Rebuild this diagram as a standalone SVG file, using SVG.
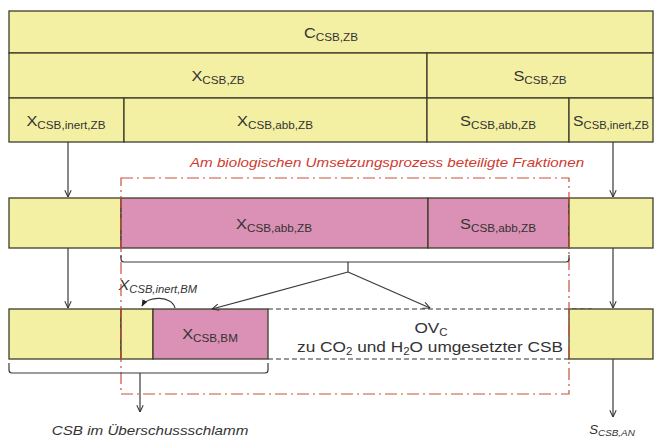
<svg xmlns="http://www.w3.org/2000/svg" width="654" height="441" viewBox="0 0 654 441">
<defs>
<style>
.y{fill:#f3f0a4;stroke:#3d3d2a;stroke-width:1.3}
.p{fill:#da91b5;stroke:#3d3d2a;stroke-width:1.3}
.lbl{font-family:"Liberation Sans",Arial,sans-serif;font-size:14px;fill:#333;text-anchor:middle}
.sub{font-size:10px}
.it{font-style:italic}
.con{fill:none;stroke:#3a3a3a;stroke-width:1.2}
.dash{fill:none;stroke:#333;stroke-width:1.2;stroke-dasharray:5 3}
.red{fill:none;stroke:#c9503c;stroke-width:1.2;stroke-dasharray:12 4 2 4}
</style>
<marker id="arr" viewBox="0 0 10 10" refX="9.5" refY="5" markerWidth="8" markerHeight="8" markerUnits="userSpaceOnUse" orient="auto">
<path d="M1,1 L9.5,5 L1,9" fill="none" stroke="#333" stroke-width="1.3"/>
</marker>
<marker id="arrf" viewBox="0 0 10 10" refX="9" refY="5" markerWidth="7" markerHeight="7" markerUnits="userSpaceOnUse" orient="auto">
<path d="M0,1 L10,5 L0,9 z" fill="#222"/>
</marker>
</defs>
<rect width="654" height="441" fill="#fff"/>

<g id="c-csb-zb">
<rect class="y" x="9" y="11" width="644" height="42"/>
<text class="lbl" transform="translate(331,38) scale(1.17,1)">C<tspan class="sub" dy="3">CSB,ZB</tspan></text>
</g>
<g id="x-csb-zb">
<rect class="y" x="9" y="53" width="418" height="45"/>
<text class="lbl" transform="translate(218,81) scale(1.17,1)">X<tspan class="sub" dy="3">CSB,ZB</tspan></text>
</g>
<g id="s-csb-zb">
<rect class="y" x="427" y="53" width="226" height="45"/>
<text class="lbl" transform="translate(540,81) scale(1.17,1)">S<tspan class="sub" dy="3">CSB,ZB</tspan></text>
</g>
<g id="x-inert-zb">
<rect class="y" x="9" y="98" width="115" height="44"/>
<text class="lbl" transform="translate(66,126) scale(1.17,1)">X<tspan class="sub" dy="3">CSB,inert,ZB</tspan></text>
</g>
<g id="x-abb-zb">
<rect class="y" x="124" y="98" width="303" height="44"/>
<text class="lbl" transform="translate(275,126) scale(1.17,1)">X<tspan class="sub" dy="3">CSB,abb,ZB</tspan></text>
</g>
<g id="s-abb-zb">
<rect class="y" x="427" y="98" width="142" height="44"/>
<text class="lbl" transform="translate(498,126) scale(1.17,1)">S<tspan class="sub" dy="3">CSB,abb,ZB</tspan></text>
</g>
<g id="s-inert-zb">
<rect class="y" x="569" y="98" width="84" height="44"/>
<text class="lbl" transform="translate(611,126) scale(1.12,1)">S<tspan class="sub" dy="3">CSB,inert,ZB</tspan></text>
</g>

<g id="mid-left"><rect class="y" x="9" y="198" width="112" height="50"/></g>
<g id="mid-x-abb">
<rect class="p" x="121" y="198" width="307" height="50"/>
<text class="lbl" transform="translate(274,229) scale(1.17,1)">X<tspan class="sub" dy="3">CSB,abb,ZB</tspan></text>
</g>
<g id="mid-s-abb">
<rect class="p" x="428" y="198" width="141" height="50"/>
<text class="lbl" transform="translate(498,229) scale(1.17,1)">S<tspan class="sub" dy="3">CSB,abb,ZB</tspan></text>
</g>
<g id="mid-right"><rect class="y" x="569" y="198" width="84" height="50"/></g>

<g id="bot-left"><rect class="y" x="9" y="309" width="112" height="50"/></g>
<g id="bot-inert-bm"><rect class="y" x="121" y="309" width="32" height="50"/>
<text class="lbl it" transform="translate(158,290) scale(1.12,1)">X<tspan class="sub" dy="3">CSB,inert,BM</tspan></text>
</g>
<g id="bot-x-bm">
<rect class="p" x="153" y="309" width="115" height="50"/>
<text class="lbl" transform="translate(210,339) scale(1.17,1)">X<tspan class="sub" dy="3">CSB,BM</tspan></text>
</g>
<g id="bot-ovc">
<line class="dash" x1="268" y1="309" x2="592" y2="309"/>
<line class="dash" x1="268" y1="359" x2="569" y2="359"/>
<text class="lbl" style="font-size:15px" transform="translate(431,333) scale(1.15,1)">OV<tspan class="sub" dy="3">C</tspan></text>
<text class="lbl" style="font-size:15px" transform="translate(430,352) scale(1.15,1)">zu CO<tspan class="sub" dy="3">2</tspan><tspan dy="-3"> und H</tspan><tspan class="sub" dy="3">2</tspan><tspan dy="-3">O umgesetzter CSB</tspan></text>
</g>
<g id="bot-right"><rect class="y" x="569" y="309" width="84" height="50"/></g>

<g id="fractions-frame">
<rect class="red" x="121" y="178" width="448" height="216"/>
<text class="lbl it" style="font-size:13px;fill:#cf3a2e" transform="translate(387,167) scale(1.17,1)">Am biologischen Umsetzungsprozess beteiligte Fraktionen</text>
</g>

<g id="connectors">
<line class="con" x1="68" y1="142" x2="68" y2="197" marker-end="url(#arr)"/>
<line class="con" x1="613" y1="142" x2="613" y2="197" marker-end="url(#arr)"/>
<line class="con" x1="68" y1="248" x2="68" y2="308" marker-end="url(#arr)"/>
<line class="con" x1="613" y1="248" x2="613" y2="308" marker-end="url(#arr)"/>
<path class="con" d="M121,255 L121,259 Q121,262 124,262 L566,262 Q569,262 569,259 L569,255"/>
<line class="con" x1="348" y1="262" x2="348" y2="272"/>
<line class="con" x1="348" y1="272" x2="212" y2="309" marker-end="url(#arr)"/>
<line class="con" x1="348" y1="272" x2="430" y2="308" marker-end="url(#arr)"/>
<path class="con" d="M175,308 C172,296 148,295 142,306" marker-end="url(#arrf)"/>
<path class="con" d="M9,363 L9,370 Q9,373 12,373 L265,373 Q268,373 268,370 L268,363"/>
<line class="con" x1="140" y1="373" x2="140" y2="412" marker-end="url(#arr)"/>
<line class="con" x1="613" y1="359" x2="613" y2="417" marker-end="url(#arr)"/>
</g>

<g id="outputs">
<text class="lbl it" style="font-size:13px" transform="translate(150,435) scale(1.17,1)">CSB im Überschussschlamm</text>
<text class="lbl it" style="font-size:12px" transform="translate(612,434) scale(1.1,1)">S<tspan class="sub" style="font-size:9px" dy="2">CSB,AN</tspan></text>
</g>
</svg>
